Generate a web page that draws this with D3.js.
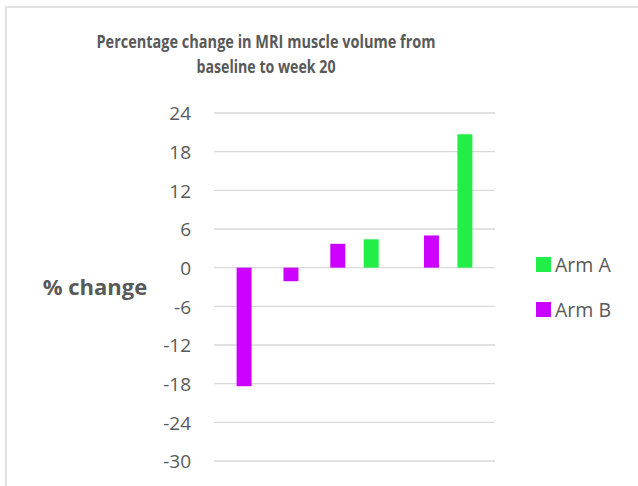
<!DOCTYPE html>
<html lang="en">
<head>
<meta charset="utf-8">
<script src="https://d3js.org/d3.v7.min.js"></script>
<style>
  body { margin: 0; background: #fff; }
  text { font-family: "Open Sans", "Noto Sans", sans-serif; fill: #595959; }
</style>
</head>
<body>
<script>
// data
const categories = ["1", "2", "3", "4", "5", "6"];
const seriesNames = ["Arm A", "Arm B"];
const armA = [null, null, null, 4.4, null, 20.7];
const armB = [-18.4, -2.1, 3.7, null, 5.0, null];
const yTicks = [24, 18, 12, 6, 0, -6, -12, -18, -24, -30];
const titleLines = ["Percentage change in MRI muscle volume from", "baseline to week 20"];
const colours = ["#21ef48", "#cc00ff"];

const W = 638, H = 486;
const svg = d3.select("body").append("svg")
  .attr("width", W).attr("height", H);

// chart border (only top and left are visible in the frame)
svg.append("rect")
  .attr("x", 6).attr("y", 7)
  .attr("width", 660).attr("height", 500)
  .attr("fill", "none")
  .attr("stroke", "#d9d9d9")
  .attr("stroke-width", 1.5);

const plot = { left: 214, right: 495, top: 113, bottom: 461 };

var y = d3.scaleLinear()
  .domain([-30, 24])
  .range([plot.bottom, plot.top]);

var x = d3.scaleBand()
  .domain(categories)
  .range([plot.left, plot.right])
  .paddingInner(0).paddingOuter(0);

// gridlines
svg.append("g")
  .selectAll("line")
  .data(yTicks)
  .enter()
  .append("line")
  .attr("x1", plot.left).attr("x2", plot.right)
  .attr("y1", d => y(d)).attr("y2", d => y(d))
  .attr("stroke", "#d9d9d9")
  .attr("stroke-width", 1.3);

// y axis labels (plain hyphen for negatives, like the original)
var yAxis = d3.axisLeft(y)
  .tickValues(yTicks)
  .tickSize(0).tickPadding(0)
  .tickFormat(d => String(d));
var ga = svg.append("g")
  .attr("transform", "translate(191,0)")
  .call(yAxis);
ga.select(".domain").remove();
ga.selectAll("text")
  .style("font-size", "19px")
  .style("font-family", "'Open Sans', 'Noto Sans', sans-serif")
  .attr("fill", "#595959")
  .attr("dy", "0.36em");

// bars: clustered, Arm A left of centre, Arm B right of centre
const barW = 15;
const offset = 6.7;
const seriesData = [armA, armB];
seriesData.forEach(function (vals, si) {
  var shift = si === 0 ? -offset : offset;
  svg.append("g")
    .selectAll("rect")
    .data(vals.map((v, i) => ({ cat: categories[i], v: v })).filter(d => d.v !== null))
    .enter()
    .append("rect")
    .attr("x", d => x(d.cat) + x.bandwidth() / 2 + shift - barW / 2)
    .attr("width", barW)
    .attr("y", d => Math.min(y(d.v), y(0)))
    .attr("height", d => Math.abs(y(d.v) - y(0)))
    .attr("fill", colours[si]);
});

// title
const titleWidths = [339, 139];
svg.append("g").selectAll("text")
  .data(titleLines)
  .enter()
  .append("text")
  .attr("x", 266)
  .attr("y", (d, i) => 48 + i * 25)
  .attr("text-anchor", "middle")
  .attr("textLength", (d, i) => titleWidths[i])
  .attr("lengthAdjust", "spacingAndGlyphs")
  .style("font-size", "17px")
  .style("font-weight", "bold")
  .text(d => d);

// y axis title
svg.append("text")
  .attr("x", 95).attr("y", 295)
  .attr("text-anchor", "middle")
  .style("font-size", "22px")
  .style("font-weight", "bold")
  .text("% change");

// legend
var lg = svg.append("g").selectAll("g")
  .data(seriesNames)
  .enter()
  .append("g")
  .attr("transform", (d, i) => "translate(536," + (257 + i * 45) + ")");
lg.append("rect")
  .attr("width", 15).attr("height", 15)
  .attr("fill", (d, i) => colours[i]);
lg.append("text")
  .attr("x", 19).attr("y", 14.5)
  .style("font-size", "19.5px")
  .text(d => d);
</script>
</body>
</html>
